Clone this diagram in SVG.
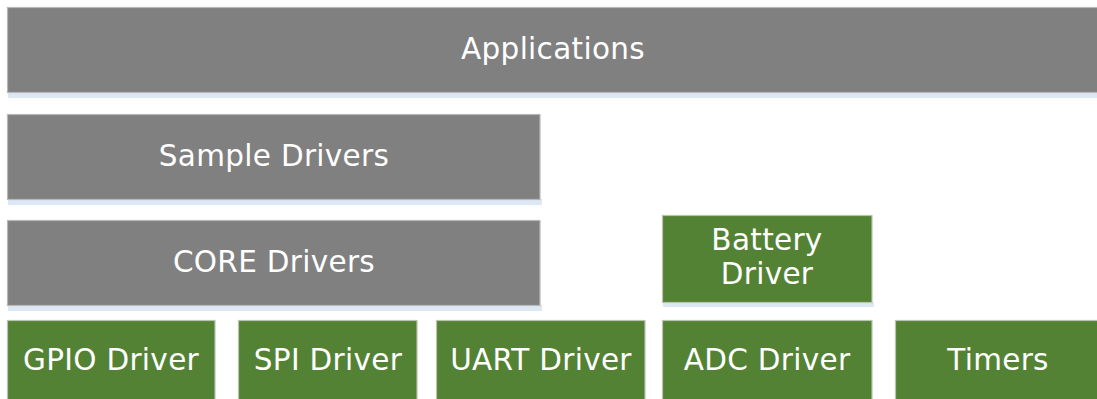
<svg xmlns="http://www.w3.org/2000/svg" width="1097" height="399" viewBox="0 0 1097 399">
  <style>
    .shadow { fill: #dde8f5; }
    .grey { fill: #808080; stroke: #b8b8b8; stroke-width: 1.2; }
    .green { fill: #548235; stroke: #b8c4b0; stroke-width: 1.2; }
    .label { font-family: "DejaVu Sans", Verdana, sans-serif; font-size: 29.5px; letter-spacing: 0.3px; fill: #ffffff; text-anchor: middle; }
  </style>
  <rect width="1097" height="399" fill="#ffffff"/>

  <g id="applications">
    <rect class="shadow" x="8" y="92" width="1092" height="6"/>
    <rect class="grey" x="7.5" y="7.5" width="1092" height="85"/>
    <text class="label" x="553" y="59">Applications</text>
  </g>

  <g id="sample-drivers">
    <rect class="shadow" x="8" y="199" width="534" height="6"/>
    <rect class="grey" x="7.5" y="114.5" width="532.5" height="85"/>
    <text class="label" x="274" y="166">Sample Drivers</text>
  </g>

  <g id="core-drivers">
    <rect class="shadow" x="8" y="305" width="534" height="6"/>
    <rect class="grey" x="7.5" y="220.5" width="532.5" height="85"/>
    <text class="label" x="274" y="272">CORE Drivers</text>
  </g>

  <g id="battery-driver">
    <rect class="shadow" x="663" y="302" width="211" height="5"/>
    <rect class="green" x="662.5" y="215.5" width="209.5" height="87"/>
    <text class="label" x="767" y="250">Battery</text>
    <text class="label" x="767" y="284">Driver</text>
  </g>

  <g id="gpio-driver">
    <rect class="green" x="7.5" y="320.5" width="207.5" height="85"/>
    <text class="label" x="111" y="370">GPIO Driver</text>
  </g>

  <g id="spi-driver">
    <rect class="green" x="238.5" y="320.5" width="178.5" height="85"/>
    <text class="label" x="328" y="370">SPI Driver</text>
  </g>

  <g id="uart-driver">
    <rect class="green" x="436.5" y="320.5" width="208.5" height="85"/>
    <text class="label" x="541" y="370">UART Driver</text>
  </g>

  <g id="adc-driver">
    <rect class="green" x="662.5" y="320.5" width="209.5" height="85"/>
    <text class="label" x="767" y="370">ADC Driver</text>
  </g>

  <g id="timers">
    <rect class="green" x="895.5" y="320.5" width="205" height="85"/>
    <text class="label" x="998" y="370">Timers</text>
  </g>

  <g id="connectors"/>
</svg>
